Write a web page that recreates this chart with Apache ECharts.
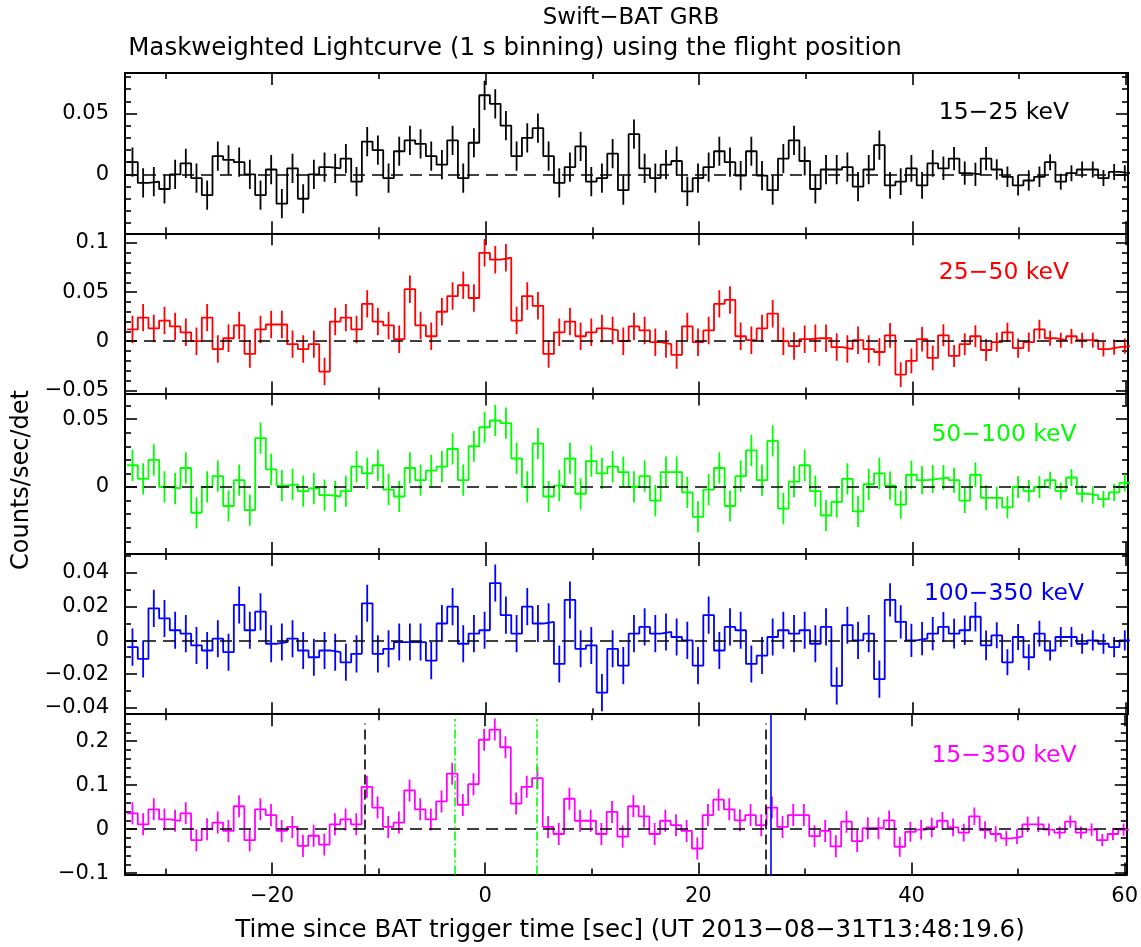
<!DOCTYPE html>
<html><head><meta charset="utf-8">
<script src="https://cdn.jsdelivr.net/npm/echarts@6/dist/echarts.min.js"></script>
<style>html,body{margin:0;padding:0;background:#fff}#c{width:1141px;height:947px}</style>
</head><body><div id="c"></div><script>
// ---- data ----
const binCenters = [-33.1,-32.1,-31.1,-30.1,-29.1,-28.1,-27.1,-26.1,-25.1,-24.1,
-23.1,-22.1,-21.1,-20.1,-19.1,-18.1,-17.1,-16.1,-15.1,-14.1,
-13.1,-12.1,-11.1,-10.1,-9.1,-8.1,-7.1,-6.1,-5.1,-4.1,
-3.1,-2.1,-1.1,-0.1,0.9,1.9,2.9,3.9,4.9,5.9,
6.9,7.9,8.9,9.9,10.9,11.9,12.9,13.9,14.9,15.9,
16.9,17.9,18.9,19.9,20.9,21.9,22.9,23.9,24.9,25.9,
26.9,27.9,28.9,29.9,30.9,31.9,32.9,33.9,34.9,35.9,
36.9,37.9,38.9,39.9,40.9,41.9,42.9,43.9,44.9,45.9,
46.9,47.9,48.9,49.9,50.9,51.9,52.9,53.9,54.9,55.9,
56.9,57.9,58.9,59.9];

const rate1 = [0.010,-0.007,-0.006,-0.012,0.000,0.009,-0.003,-0.017,0.015,0.012,
0.010,0.000,-0.017,0.004,-0.024,0.005,-0.020,0.000,0.006,0.005,
0.013,-0.006,0.027,0.020,-0.003,0.019,0.028,0.025,0.015,0.008,
0.028,-0.003,0.026,0.065,0.058,0.040,0.015,0.030,0.038,0.015,
-0.007,0.006,0.023,-0.006,-0.003,0.017,-0.013,0.033,0.005,-0.003,
0.008,0.011,-0.014,-0.003,0.006,0.019,0.010,-0.001,0.019,-0.001,
-0.013,0.013,0.028,0.011,-0.012,0.004,0.004,0.006,-0.010,0.004,
0.024,-0.009,-0.006,0.005,-0.009,0.009,0.005,0.013,0.001,0.000,
0.013,0.004,-0.002,-0.009,-0.005,-0.002,0.010,-0.006,0.001,0.004,
0.004,-0.003,0.002,0.001];

const rate2 = [0.012,0.024,0.013,0.021,0.015,0.009,0.000,0.024,-0.008,0.003,
0.016,-0.013,0.012,0.017,0.017,-0.003,-0.008,-0.003,-0.031,0.020,
0.024,0.012,0.038,0.020,0.016,0.002,0.053,0.016,0.005,0.030,
0.046,0.057,0.044,0.090,0.083,0.085,0.021,0.046,0.036,-0.013,
0.009,0.020,0.005,0.009,0.013,0.011,0.000,0.015,0.011,-0.001,
-0.003,-0.014,0.015,-0.001,0.011,0.038,0.042,0.005,0.001,0.013,
0.028,0.000,-0.005,0.002,0.003,0.003,-0.006,-0.008,0.001,-0.008,
-0.011,0.006,-0.034,-0.020,0.002,-0.017,0.006,-0.015,-0.003,0.005,
-0.009,-0.001,0.009,-0.007,-0.001,0.012,0.003,0.001,0.005,0.001,
0.001,-0.008,-0.006,-0.005];

const rate3 = [0.016,0.006,0.020,0.000,-0.001,0.014,-0.019,0.000,0.008,-0.014,
0.005,-0.017,0.036,0.013,0.001,0.002,-0.003,-0.001,-0.006,-0.007,
-0.003,0.015,0.010,0.016,-0.002,-0.007,0.014,0.005,0.012,0.015,
0.028,0.005,0.030,0.044,0.049,0.047,0.021,0.000,0.032,-0.007,
0.001,0.021,-0.005,0.019,0.010,0.015,0.011,0.000,0.008,-0.010,
0.011,0.011,-0.004,-0.022,-0.002,0.014,-0.014,0.008,0.027,0.005,
0.034,-0.016,0.004,0.016,-0.003,-0.021,-0.011,0.006,-0.018,0.002,
0.010,0.001,-0.013,0.009,0.005,0.006,0.007,0.005,-0.010,0.009,
-0.008,-0.008,-0.015,0.000,-0.003,0.000,0.005,-0.003,0.007,-0.005,
-0.006,-0.009,-0.004,0.003];

const rate4 = [-0.004,-0.011,0.019,0.013,0.006,0.004,-0.003,-0.006,0.001,-0.007,
0.021,0.006,0.017,-0.002,-0.001,0.001,-0.006,-0.010,-0.006,-0.007,
-0.013,-0.008,0.022,-0.008,-0.005,-0.001,-0.001,-0.001,-0.012,0.010,
0.020,-0.002,0.004,0.006,0.034,0.015,0.004,0.020,0.010,0.011,
-0.014,0.024,-0.005,-0.003,-0.031,-0.005,-0.015,0.004,0.008,0.004,
0.005,0.002,0.000,-0.015,0.015,-0.006,0.008,0.006,-0.014,-0.009,
0.002,0.006,0.004,0.006,-0.002,0.008,-0.027,0.009,0.000,0.004,
-0.023,0.024,0.011,0.000,0.001,0.004,0.008,0.004,0.006,0.014,
-0.003,0.003,-0.013,0.002,-0.010,0.004,-0.006,0.002,0.002,-0.002,
0.000,-0.002,-0.004,0.000];

const rate5 = [0.036,0.011,0.045,0.022,0.019,0.036,-0.025,0.000,0.015,-0.004,
0.052,-0.025,0.045,0.032,-0.004,0.005,-0.038,-0.015,-0.035,0.011,
0.022,0.011,0.096,0.049,0.005,0.015,0.088,0.045,0.022,0.063,
0.126,0.055,0.102,0.203,0.226,0.186,0.058,0.096,0.116,0.005,
-0.011,0.069,0.019,0.019,-0.011,0.039,-0.017,0.052,0.029,-0.011,
0.019,0.009,-0.004,-0.044,0.032,0.067,0.045,0.020,0.032,0.009,
0.049,0.005,0.032,0.032,-0.016,-0.004,-0.039,0.017,-0.027,0.002,
0.002,0.020,-0.040,-0.006,-0.001,0.004,0.019,0.004,-0.008,0.029,
-0.002,-0.011,-0.021,-0.017,0.011,0.011,-0.001,-0.008,0.017,-0.008,
-0.001,-0.025,-0.011,-0.001];

const err1 = [0.012,0.012,0.012,0.012,0.012,0.012,0.012,0.012,0.012,0.012,
0.012,0.012,0.012,0.012,0.012,0.012,0.012,0.012,0.012,0.012,
0.012,0.012,0.012,0.012,0.012,0.012,0.012,0.012,0.012,0.012,
0.012,0.012,0.012,0.012,0.012,0.012,0.012,0.012,0.012,0.012,
0.012,0.012,0.012,0.012,0.012,0.012,0.012,0.012,0.012,0.012,
0.012,0.012,0.012,0.012,0.012,0.012,0.012,0.012,0.012,0.012,
0.012,0.012,0.012,0.012,0.012,0.012,0.012,0.012,0.012,0.012,
0.012,0.011,0.011,0.011,0.011,0.011,0.0096,0.0096,0.0096,0.0096,
0.0096,0.0084,0.0084,0.0084,0.0084,0.0084,0.0066,0.0066,0.0066,0.0066,
0.0066,0.0066,0.0066,0.0066];

const err2 = [0.014,0.014,0.014,0.014,0.014,0.014,0.014,0.014,0.014,0.014,
0.014,0.014,0.014,0.014,0.014,0.014,0.014,0.014,0.014,0.014,
0.014,0.014,0.014,0.014,0.014,0.014,0.014,0.014,0.014,0.014,
0.014,0.014,0.014,0.014,0.014,0.014,0.014,0.014,0.014,0.014,
0.014,0.014,0.014,0.014,0.014,0.014,0.014,0.014,0.014,0.014,
0.014,0.014,0.014,0.014,0.014,0.014,0.014,0.014,0.014,0.014,
0.014,0.014,0.014,0.014,0.014,0.014,0.014,0.014,0.014,0.014,
0.014,0.0126,0.0126,0.0126,0.0126,0.0126,0.0112,0.0112,0.0112,0.0112,
0.0112,0.0098,0.0098,0.0098,0.0098,0.0098,0.0077,0.0077,0.0077,0.0077,
0.0077,0.0077,0.0077,0.0077];

const err3 = [0.0115,0.0115,0.0115,0.0115,0.0115,0.0115,0.0115,0.0115,0.0115,0.0115,
0.0115,0.0115,0.0115,0.0115,0.0115,0.0115,0.0115,0.0115,0.0115,0.0115,
0.0115,0.0115,0.0115,0.0115,0.0115,0.0115,0.0115,0.0115,0.0115,0.0115,
0.0115,0.0115,0.0115,0.0115,0.0115,0.0115,0.0115,0.0115,0.0115,0.0115,
0.0115,0.0115,0.0115,0.0115,0.0115,0.0115,0.0115,0.0115,0.0115,0.0115,
0.0115,0.0115,0.0115,0.0115,0.0115,0.0115,0.0115,0.0115,0.0115,0.0115,
0.0115,0.0115,0.0115,0.0115,0.0115,0.0115,0.0115,0.0115,0.0115,0.0115,
0.0115,0.0104,0.0104,0.0104,0.0104,0.0104,0.0092,0.0092,0.0092,0.0092,
0.0092,0.0081,0.0081,0.0081,0.0081,0.0081,0.0063,0.0063,0.0063,0.0063,
0.0063,0.0063,0.0063,0.0063];

const err4 = [0.011,0.011,0.011,0.011,0.011,0.011,0.011,0.011,0.011,0.011,
0.011,0.011,0.011,0.011,0.011,0.011,0.011,0.011,0.011,0.011,
0.011,0.011,0.011,0.011,0.011,0.011,0.011,0.011,0.011,0.011,
0.011,0.011,0.011,0.011,0.011,0.011,0.011,0.011,0.011,0.011,
0.011,0.011,0.011,0.011,0.011,0.011,0.011,0.011,0.011,0.011,
0.011,0.011,0.011,0.011,0.011,0.011,0.011,0.011,0.011,0.011,
0.011,0.011,0.011,0.011,0.011,0.011,0.011,0.011,0.011,0.011,
0.011,0.0099,0.0099,0.0099,0.0099,0.0099,0.0088,0.0088,0.0088,0.0088,
0.0088,0.0077,0.0077,0.0077,0.0077,0.0077,0.006,0.006,0.006,0.006,
0.006,0.006,0.006,0.006];

const err5 = [0.025,0.025,0.025,0.025,0.025,0.025,0.025,0.025,0.025,0.025,
0.025,0.025,0.025,0.025,0.025,0.025,0.025,0.025,0.025,0.025,
0.025,0.025,0.025,0.025,0.025,0.025,0.025,0.025,0.025,0.025,
0.025,0.025,0.025,0.025,0.025,0.025,0.025,0.025,0.025,0.025,
0.025,0.025,0.025,0.025,0.025,0.025,0.025,0.025,0.025,0.025,
0.025,0.025,0.025,0.025,0.025,0.025,0.025,0.025,0.025,0.025,
0.025,0.025,0.025,0.025,0.025,0.025,0.025,0.025,0.025,0.025,
0.025,0.0225,0.0225,0.0225,0.0225,0.0225,0.020,0.020,0.020,0.020,
0.020,0.0175,0.0175,0.0175,0.0175,0.0175,0.0138,0.0138,0.0138,0.0138,
0.0138,0.0138,0.0138,0.0138];

const xMajorTicks = [-20, 0, 20, 40, 60];
const xMinorTicks = [-30, -10, 10, 30, 50];
const bandLabels = ['15−25 keV', '25−50 keV', '50−100 keV', '100−350 keV', '15−350 keV'];
const yMajor = [[0, 0.05], [-0.05, 0, 0.05, 0.1], [0, 0.05], [-0.04, -0.02, 0, 0.02, 0.04], [-0.1, 0, 0.1, 0.2]];
const yMinor = [
  [-0.04, -0.03, -0.02, -0.01, 0.01, 0.02, 0.03, 0.04, 0.06, 0.07, 0.08],
  [-0.04, -0.03, -0.02, -0.01, 0.01, 0.02, 0.03, 0.04, 0.06, 0.07, 0.08, 0.09],
  [-0.04, -0.03, -0.02, -0.01, 0.01, 0.02, 0.03, 0.04, 0.06],
  [-0.03, -0.01, 0.01, 0.03, 0.05],
  [-0.08, -0.06, -0.04, -0.02, 0.02, 0.04, 0.06, 0.08, 0.12, 0.14, 0.16, 0.18, 0.22, 0.24]
];
const yRanges = [[-0.0484, 0.0833], [-0.0534, 0.1099], [-0.0493, 0.0688], [-0.0438, 0.0513], [-0.103, 0.261]];
const dashedMarkTimes = [-11.3, 26.3];
const t90Times = [-2.9, 4.8];
const slewTime = 26.8;

// ---- layout / style ----
const rates = [rate1, rate2, rate3, rate4, rate5];
const errs = [err1, err2, err3, err4, err5];
const colors = ['#000000', '#ff0000', '#00ff00', '#0000ff', '#ff00ff'];
const labelY = [113, 273, 435, 594, 756];
const FONT = 'DejaVu Sans';
const X_MIN = -33.8, X_MAX = 60.2;
const GRID_TOP = 73, GRID_H = 160.3, GRID_LEFT = 125, GRID_W = 1003;

function fmt(v) {
  return String(+(+v).toFixed(3)).replace('-', '−');
}

const chart = echarts.init(document.getElementById('c'), null, {renderer: 'canvas'});
const grid = [], xAxis = [], yAxis = [], series = [];

function makeX(p, pos, ticks, len, showLine, showLabel) {
  return {
    type: 'value', gridIndex: p, min: X_MIN, max: X_MAX, position: pos,
    axisLine: {show: showLine, onZero: false, lineStyle: {color: '#000', width: 2}},
    axisTick: {show: true, inside: true, length: len, customValues: ticks, lineStyle: {color: '#000', width: 1.6}},
    axisLabel: {show: showLabel, customValues: ticks, margin: 12, fontSize: 21, color: '#000', fontFamily: FONT, formatter: fmt},
    splitLine: {show: false}, minorTick: {show: false}
  };
}
function makeY(p, pos, ticks, len, showLine, showLabel) {
  return {
    type: 'value', gridIndex: p, min: yRanges[p][0], max: yRanges[p][1], position: pos,
    axisLine: {show: showLine, onZero: false, lineStyle: {color: '#000', width: 2}},
    axisTick: {show: true, inside: true, length: len, customValues: ticks, lineStyle: {color: '#000', width: 1.6}},
    axisLabel: {show: showLabel, customValues: ticks, margin: 16, fontSize: 21, color: '#000', fontFamily: FONT, formatter: fmt},
    splitLine: {show: false}, minorTick: {show: false}
  };
}

for (let p = 0; p < 5; p++) {
  grid.push({left: GRID_LEFT, top: GRID_TOP + p * GRID_H, width: GRID_W, height: GRID_H, containLabel: false});
  xAxis.push(makeX(p, 'bottom', xMajorTicks, 12, true, p === 4));
  xAxis.push(makeX(p, 'bottom', xMinorTicks, 6, false, false));
  xAxis.push(makeX(p, 'top', xMajorTicks, 12, true, false));
  xAxis.push(makeX(p, 'top', xMinorTicks, 6, false, false));
  yAxis.push(makeY(p, 'left', yMajor[p], 12, true, true));
  yAxis.push(makeY(p, 'left', yMinor[p], 6, false, false));
  yAxis.push(makeY(p, 'right', yMajor[p], 12, true, false));
  yAxis.push(makeY(p, 'right', yMinor[p], 6, false, false));

  const rate = rates[p], err = errs[p], color = colors[p];
  const stepData = [];
  binCenters.forEach((t, i) => { stepData.push([t - 0.5, rate[i]]); stepData.push([t + 0.5, rate[i]]); });

  const markData = [{yAxis: 0, lineStyle: {color: '#000', type: [12, 7], width: 1.6}}];
  if (p === 4) {
    const yTop = 0.24;
    dashedMarkTimes.forEach(t => markData.push([{coord: [t, yRanges[4][0]], lineStyle: {color: '#000', type: [10, 5], width: 1.6}}, {coord: [t, yTop]}]));
    t90Times.forEach(t => markData.push([{coord: [t, yRanges[4][0]], lineStyle: {color: '#00ff00', type: [9, 3, 2, 3], width: 1.6}}, {coord: [t, 0.25]}]));
    markData.push([{coord: [slewTime, yRanges[4][0]], lineStyle: {color: '#0000ff', type: 'solid', width: 1.6}}, {coord: [slewTime, yRanges[4][1]]}]);
  }

  series.push({
    type: 'line', xAxisIndex: 4 * p, yAxisIndex: 4 * p, data: stepData,
    showSymbol: false, symbol: 'none', clip: true, animation: false, silent: true,
    lineStyle: {color: color, width: 1.8}, itemStyle: {color: color},
    markLine: {silent: true, symbol: ['none', 'none'], animation: false, label: {show: false}, data: markData}
  });
  series.push({
    type: 'custom', xAxisIndex: 4 * p, yAxisIndex: 4 * p, clip: true, animation: false, silent: true,
    data: binCenters.map((t, i) => [t, rate[i], err[i]]),
    encode: {x: 0, y: 1},
    renderItem: (params, api) => {
      const t = api.value(0), v = api.value(1), e = api.value(2);
      const a = api.coord([t, v - e]), b = api.coord([t, v + e]);
      return {type: 'line', shape: {x1: a[0], y1: a[1], x2: b[0], y2: b[1]}, style: {stroke: color, lineWidth: 1.8}};
    }
  });
}

const graphic = [
  {type: 'text', x: 631, y: 18, style: {text: 'Swift−BAT GRB', font: '23px ' + FONT, fill: '#000', textAlign: 'center', textVerticalAlign: 'middle'}},
  {type: 'text', x: 515, y: 49, style: {text: 'Maskweighted Lightcurve (1 s binning) using the flight position', font: '24.5px ' + FONT, fill: '#000', textAlign: 'center', textVerticalAlign: 'middle'}},
  {type: 'text', x: 630, y: 931, style: {text: 'Time since BAT trigger time [sec] (UT 2013−08−31T13:48:19.6)', font: '24.5px ' + FONT, fill: '#000', textAlign: 'center', textVerticalAlign: 'middle'}},
  {type: 'text', x: 22, y: 480, rotation: Math.PI / 2, style: {text: 'Counts/sec/det', font: '24px ' + FONT, fill: '#000', textAlign: 'center', textVerticalAlign: 'middle'}}
];
bandLabels.forEach((s, p) => graphic.push({type: 'text', x: 1004, y: labelY[p], style: {text: s, font: '23.5px ' + FONT, fill: colors[p], textAlign: 'center', textVerticalAlign: 'middle'}}));

chart.setOption({backgroundColor: '#fff', animation: false, grid, xAxis, yAxis, series, graphic});
</script></body></html>
